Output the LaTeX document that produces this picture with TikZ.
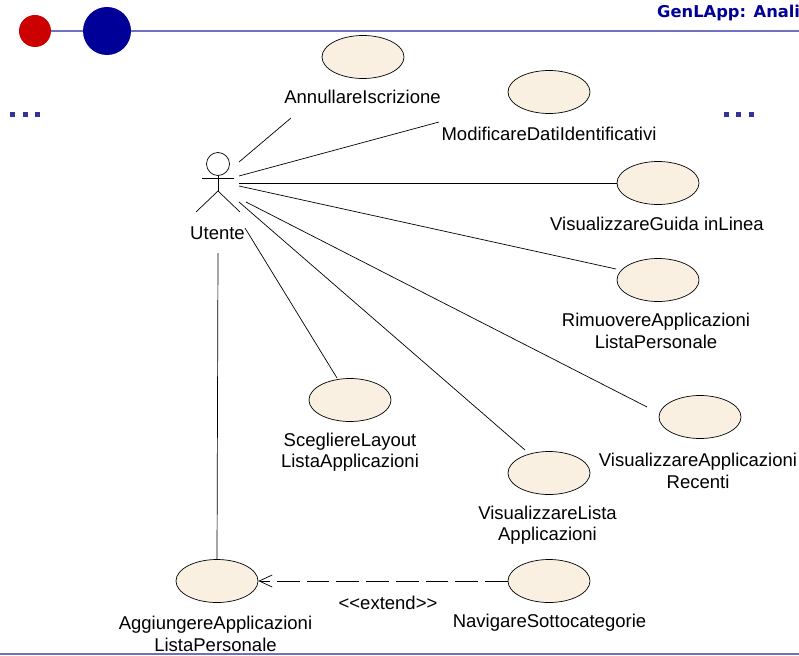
\documentclass[tikz,border=0pt]{standalone}
\usepackage{fontspec}
\setmainfont{Liberation Sans}
\newfontfamily\titlefont{DejaVu Sans}
\usetikzlibrary{arrows.meta,shapes.geometric}
\definecolor{crema}{RGB}{250,240,226}
\definecolor{lilla}{RGB}{112,112,192}
\definecolor{blu}{RGB}{0,0,153}
\definecolor{rosso}{RGB}{204,0,0}
\definecolor{punti}{RGB}{51,51,153}

\begin{document}
\begin{tikzpicture}[x = 1pt, y = -1pt, caso/.style = {fill=crema,ellipse,draw,line width=0.7pt,minimum width=82pt,minimum height=43pt,inner sep=0pt},testo/.style = {align=center,font=\fontsize{18.5}{21.5}\selectfont,inner sep=0pt},linea/.style = {line width=0.7pt},punto/.style = {fill=punti,minimum size=5pt,inner sep=0pt},]
		\useasboundingbox (0,0) rectangle (799,655);
		% testata
		\draw[lilla, line width=1.2pt] (35,31) -- (799,31);
		\draw[lilla, line width=1.2pt] (0,654) -- (799,654);
		\node[circle,fill=rosso,minimum size=32pt,inner sep=0pt] (rosso) at (35,31) {};
		\node[circle,fill=blu,minimum size=48pt,inner sep=0pt] (blu) at (107,31) {};
		\node[anchor=base west,inner sep=0pt,text=blu,font=\titlefont\bfseries\fontsize{16.3}{18}\selectfont] (titolo) at (657,18) {GenLApp: Anali};
		\node[punto] (p1) at (12,115) {};
		\node[punto] (p2) at (25,115) {};
		\node[punto] (p3) at (37,115) {};
		\node[punto] (p4) at (726,115) {};
		\node[punto] (p5) at (738,115) {};
		\node[punto] (p6) at (751,115) {};
		
		% attore
		\node[circle,draw,line width=0.7pt,minimum size=23pt,inner sep=0pt] (testa) at (218,164) {};
		\coordinate (spalla1) at (202,178);
		\coordinate (spalla2) at (234,178);
		\coordinate (bacino) at (218,191);
		\coordinate (piede1) at (196,212);
		\coordinate (piede2) at (240,212);
		\draw[linea] (testa) -- (bacino);
		\draw[linea] (spalla1) -- (spalla2);
		\draw[linea] (piede1) -- (bacino) -- (piede2);
		\node[testo] (utente) at (217.5,233) {Utente};
		
		% casi d'uso
		\node[caso] (annullare) at (363,57) {};
		\node[caso] (modificare) at (549,92) {};
		\node[caso] (guida) at (658,183) {};
		\node[caso] (rimuovere) at (658,280) {};
		\node[caso] (scegliere) at (350,400) {};
		\node[caso] (recenti) at (700,417) {};
		\node[caso] (lista) at (549,473) {};
		\node[caso] (aggiungere) at (217,581) {};
		\node[caso] (navigare) at (549,581) {};
		
		\node[testo] (tannullare) at (362.5,97) {AnnullareIscrizione};
		\node[testo] (tmodificare) at (549,134) {ModificareDatiIdentificativi};
		\node[testo] (tguida) at (657,224) {VisualizzareGuida inLinea};
		\node[testo] (trimuovere) at (656,331) {RimuovereApplicazioni\\ListaPersonale};
		\node[testo] (tscegliere) at (350,452) {ScegliereLayout\\ListaApplicazioni};
		\node[testo] (trecenti) at (698,471) {VisualizzareApplicazioni\\Recenti};
		\node[testo] (tlista) at (547.5,525) {VisualizzareLista\\Applicazioni};
		\node[testo] (taggiungere) at (215.5,634) {AggiungereApplicazioni\\ListaPersonale};
		\node[testo] (tnavigare) at (549.5,623) {NavigareSottocategorie};
		\node[testo] (textend) at (388,603) {<{}<extend>{}>};
		
		% estremi delle linee
		\coordinate (a1) at (239,162);
		\coordinate (b1) at (291,118);
		\coordinate (a2) at (239,176);
		\coordinate (b2) at (439,122);
		\coordinate (a3) at (239,183);
		\coordinate (a4) at (239,186);
		\coordinate (b4) at (616,269);
		\coordinate (a5) at (239,202);
		\coordinate (b5) at (525,450);
		\coordinate (a6) at (246,202);
		\coordinate (b6) at (647,407);
		\coordinate (a7) at (245,228);
		\coordinate (b7) at (337,378);
		\coordinate (a8) at (218,253);
		
		\draw[linea] (a1) -- (b1);
		\draw[linea] (a2) -- (b2);
		\draw[linea] (a3) -- (guida.west);
		\draw[linea] (a4) -- (b4);
		\draw[linea] (a5) -- (b5);
		\draw[linea] (a6) -- (b6);
		\draw[linea] (a7) -- (b7);
		\draw[linea] (a8) -- (aggiungere.north);
		\draw[linea, dash pattern=on 22.7pt off 7pt, -{Straight Barb[length=13pt,width=12pt,line width=0.7pt]}] (navigare.west) -- (aggiungere.east);
	\end{tikzpicture}
\end{document}
